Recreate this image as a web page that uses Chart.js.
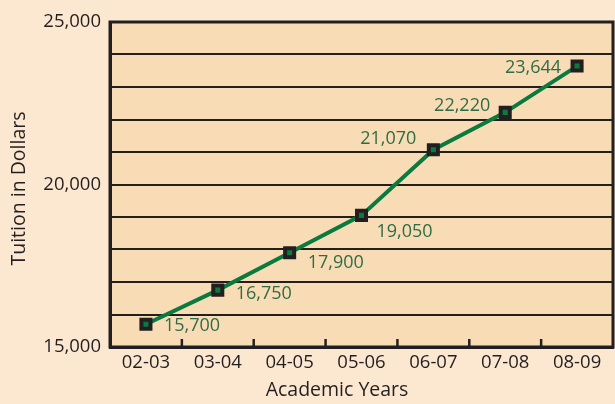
<!DOCTYPE html>
<html><head><meta charset="utf-8">
<script src="https://cdn.jsdelivr.net/npm/chart.js@4"></script>
<style>html,body{margin:0;padding:0;background:#fce8d1;}#wrap{width:615px;height:404px;}</style>
</head><body><div id="wrap"><canvas id="c" width="615" height="404"></canvas></div>
<script>
const categories = ['02-03','03-04','04-05','05-06','06-07','07-08','08-09'];
const tuition = [15700, 16750, 17900, 19050, 21070, 22220, 23644];
const valueLabels = ['15,700','16,750','17,900','19,050','21,070','22,220','23,644'];
const yTickLabels = {15000:'15,000',20000:'20,000',25000:'25,000'};
const xTitle = 'Academic Years';
const yTitle = 'Tuition in Dollars';

// label placement style (offset from the point, in px): [dx, dy, align]
const labelStyle = [[18,2,'left'],[18,4,'left'],[18,10,'left'],[15,16,'left'],[-17,-11,'right'],[-15,-6,'right'],[-16,2,'right']];

const FONT = '"Open Sans", "Noto Sans", sans-serif';
const DARK = '#231f20';
const GREEN = '#0b7a3f';
const LABELGREEN = '#2f6c45';

const plotBg = {
  id:'plotBg',
  beforeDraw(chart){
    const {ctx, chartArea:a} = chart;
    ctx.save(); ctx.fillStyle='#f8dcb5';
    ctx.fillRect(a.left,a.top,a.right-a.left,a.bottom-a.top);
    ctx.restore();
  }
};
const frame = {
  id:'frame',
  beforeDatasetsDraw(chart){
    const {ctx, chartArea:a, scales:{x}} = chart;
    ctx.save(); ctx.strokeStyle=DARK; ctx.lineWidth=2.5;
    for(let i=1;i<categories.length;i++){
      const px=(x.getPixelForValue(i-1)+x.getPixelForValue(i))/2;
      ctx.beginPath(); ctx.moveTo(px,a.bottom); ctx.lineTo(px,a.bottom-8); ctx.stroke();
    }
    ctx.lineWidth=3;
    ctx.strokeRect(a.left,a.top,a.right-a.left,a.bottom-a.top);
    ctx.restore();
  },
  afterDraw(chart){
    const {ctx, chartArea:a} = chart;
    ctx.save(); ctx.fillStyle=DARK; ctx.font='19.5px '+FONT;
    ctx.textAlign='center'; ctx.textBaseline='middle';
    ctx.fillText(xTitle, 337, 390);
    ctx.translate(19, (a.top+a.bottom)/2+4);
    ctx.rotate(-Math.PI/2);
    ctx.fillText(yTitle, 0, 0);
    ctx.restore();
  }
};
const valueLabelPlugin = {
  id:'valueLabels',
  afterDatasetsDraw(chart){
    const {ctx} = chart;
    const meta = chart.getDatasetMeta(0);
    ctx.save(); ctx.fillStyle=LABELGREEN; ctx.font='18px '+FONT; ctx.textBaseline='middle';
    meta.data.forEach((pt,i)=>{
      const [dx,dy,al]=labelStyle[i];
      ctx.textAlign=al; ctx.fillText(valueLabels[i], pt.x+dx, pt.y+dy);
    });
    ctx.restore();
  }
};

new Chart(document.getElementById('c'), {
  type:'line',
  data:{ labels:categories, datasets:[{
    data:tuition, borderColor:GREEN, borderWidth:4, tension:0,
    pointStyle:'rect', pointRadius:6.4, pointHoverRadius:6.4,
    pointBackgroundColor:GREEN, pointBorderColor:DARK, pointBorderWidth:4
  }]},
  options:{
    responsive:false, animation:false, devicePixelRatio:1,
    layout:{autoPadding:false, padding:{top:22,right:2,left:0,bottom:0}},
    plugins:{legend:{display:false}, tooltip:{enabled:false}},
    scales:{
      x:{
        offset:true,
        grid:{display:false, drawOnChartArea:false, drawTicks:false},
        border:{display:true, color:DARK, width:3},
        ticks:{color:DARK, font:{family:FONT,size:18.5}, padding:5},
        afterFit(s){ s.height=57; s.paddingLeft=0; s.paddingRight=0; }
      },
      y:{
        min:15000, max:25000,
        grid:{color:DARK, lineWidth:2, drawTicks:false},
        border:{display:true, color:DARK, width:3},
        ticks:{stepSize:1000, color:DARK, font:{family:FONT,size:18.5}, padding:9,
          callback:(v)=> yTickLabels[v] || ''},
        afterFit(s){ s.width=110; s.paddingTop=0; s.paddingBottom=0; }
      }
    }
  },
  plugins:[plotBg, frame, valueLabelPlugin]
});
</script></body></html>
